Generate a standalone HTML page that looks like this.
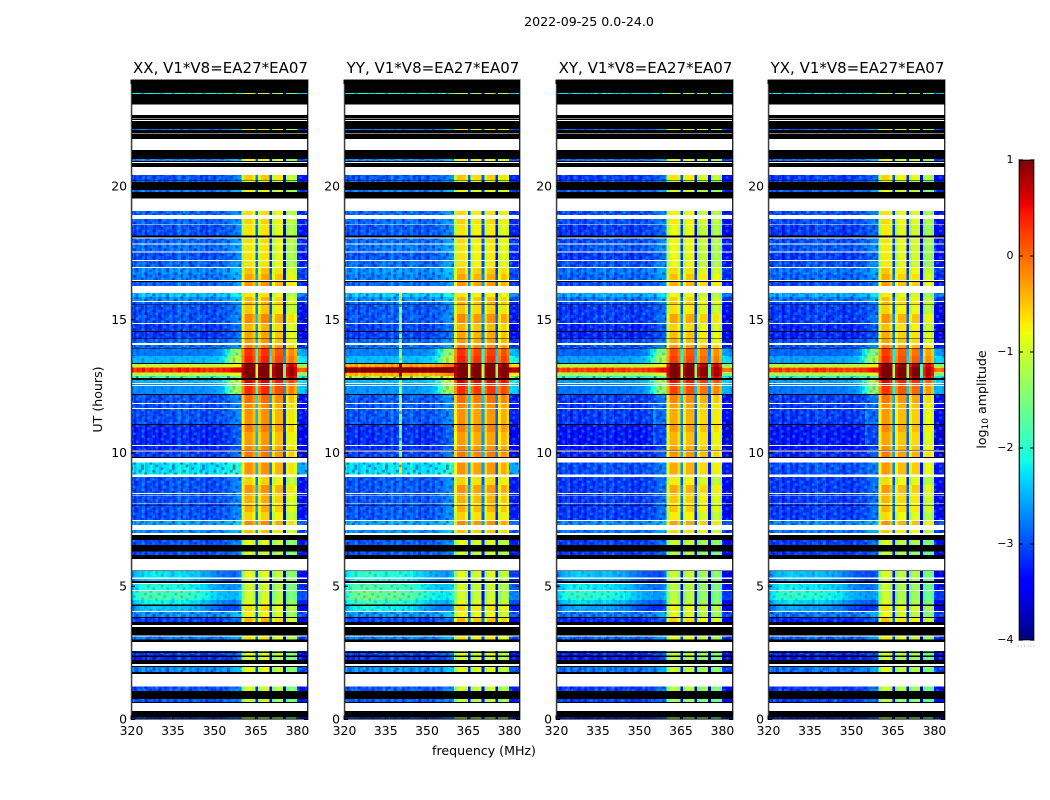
<!DOCTYPE html>
<html lang="en">
<head>
<meta charset="utf-8">
<title>2022-09-25 amplitude waterfall</title>
<style>
html,body{margin:0;padding:0;background:#fff;width:1050px;height:800px;overflow:hidden}
svg{display:block}
text{font-family:"DejaVu Sans","Liberation Sans",sans-serif;fill:#000}
</style>
</head>
<body>
<svg id="chart" xmlns="http://www.w3.org/2000/svg" width="1050" height="800" viewBox="0 0 1050 800">
<defs id="defs"></defs>
<rect width="1050" height="800" fill="#fff"/>
<text x="589" y="26" font-size="12.6" text-anchor="middle">2022-09-25 0.0-24.0</text>
<text x="0" y="0" font-size="12.6" text-anchor="middle" transform="translate(102,399.5) rotate(-90)">UT (hours)</text>
<text x="484" y="755" font-size="12.6" text-anchor="middle">frequency (MHz)</text>
<text x="0" y="0" font-size="12.6" text-anchor="middle" transform="translate(986,399.5) rotate(-90)">log<tspan font-size="9" dy="2">10</tspan><tspan dy="-2"> amplitude</tspan></text>
<g id="panels"></g>
<g id="colorbar"></g>
</svg>
<script>
const K = -9, W = null;
const panelTitles = ['XX, V1*V8=EA27*EA07','YY, V1*V8=EA27*EA07','XY, V1*V8=EA27*EA07','YX, V1*V8=EA27*EA07'];
const xTickLabels = [320,335,350,365,380];
const yTickLabels = [0,5,10,15,20];
const colorTickLabels = [-4,-3,-2,-1,0,1];

// upper UT edge (hours) of each time band; the first band starts at 0
const bandEdges = [
.08,.32,.62,.66,.77,1.07,1.23,1.70,1.78,1.97,
2.01,2.08,2.23,2.35,2.40,2.50,2.55,2.57,2.91,3.01,
3.11,3.16,3.48,3.55,3.66,3.81,3.85,4.03,4.07,4.26,
4.32,4.48,4.83,4.86,5.08,5.12,5.19,5.28,5.32,5.57,
5.60,6.03,6.17,6.30,6.55,6.74,6.93,7.00,7.11,7.30,
7.45,7.49,7.79,8.03,8.05,8.11,8.12,8.38,8.41,8.47,
8.51,8.80,9.11,9.19,9.64,9.82,9.85,10.06,10.09,10.11,
10.27,10.30,10.79,11.05,11.09,11.66,11.69,11.84,11.87,12.18,
12.21,12.51,12.55,12.59,12.63,12.74,12.81,12.89,13.00,13.05,
13.19,13.23,13.34,13.38,13.64,13.92,13.94,14.06,14.13,14.28,
14.30,14.55,14.58,14.84,14.88,15.22,15.55,15.58,15.67,15.70,
15.85,16.01,16.27,16.42,16.45,16.49,16.72,16.94,16.98,17.20,
17.24,17.52,17.56,17.82,17.86,18.05,18.09,18.16,18.57,18.59,
18.78,18.93,19.08,19.56,19.79,19.87,20.17,20.22,20.25,20.43,
20.74,20.89,20.92,20.96,21.03,21.37,21.79,21.99,22.02,22.12,
22.16,22.47,22.50,22.55,22.57,22.68,23.09,23.47,23.52,24];

// log10 amplitude of the 320-360 MHz part per band (K = black row, W = flagged/white)
const bandLow = [
-3,K,W,K,-2.9,K,-2.9,W,K,-2.6,
K,W,K,-3.1,K,-3,K,-3,W,K,
-2.7,W,K,W,K,-3,K,-2.6,W,-2.55,
K,-2.3,-2,W,-2.2,W,K,-2.5,W,-2.4,
K,W,K,-2.9,K,-2.9,K,W,-2.6,W,
-2.5,W,-2.9,-2.9,K,-3,W,-2.9,W,-2.9,
W,-2.9,-2.9,W,-2.3,W,K,-3,W,K,
-3.1,W,-3.1,-3.1,K,-2.9,W,-2.9,W,-2.9,
K,-2.6,W,-2.6,W,-2.4,K,-1.7,-1.1,-.1,
.45,-.1,-1,K,-2.4,-2.7,K,-2.8,W,-2.8,
K,-3,K,-3,W,-2.9,-2.9,K,-2.8,W,
-2.6,-2.3,W,-2.8,K,W,-2.7,-2.6,W,-2.8,
W,-2.9,W,-2.75,W,-2.8,W,K,-2.9,W,
-2.8,W,-2.8,W,K,-2.7,K,-2.8,K,-2.9,
W,K,W,K,-2.6,K,W,K,W,K,
-2.7,K,W,K,W,K,W,K,-2,K];

// log10 amplitude of the 360-380 MHz part per band
const bandHigh = [
-1,K,W,K,-1,K,-.9,W,K,-.8,
K,W,K,-.9,K,-.8,K,-1,W,K,
-.6,W,K,W,K,-.35,K,-.7,W,-.55,
K,-.8,-.9,W,-.9,W,K,-.9,W,-.8,
K,W,K,-.9,K,-.8,K,W,-.4,W,
-.1,W,-.5,-.3,K,-.5,W,-.3,W,-.3,
W,-.15,-.5,W,-.15,W,K,0,W,K,
-.1,W,-.2,-.05,K,-.15,W,-.1,W,.05,
K,.4,W,.45,W,.7,K,1.2,1.4,1.4,
1.4,1.4,1.2,K,.45,.35,K,-.05,W,-.2,
K,-.25,K,-.35,W,-.1,-.45,K,-.3,W,
-.35,-.6,W,-.15,K,W,-.25,-.4,W,-.6,
W,-.6,W,-.6,W,-.55,W,K,-.6,W,
-.5,W,-.55,W,K,-.7,K,-.8,K,-.45,
W,K,W,K,-.7,K,W,K,W,K,
-.6,K,W,K,W,K,W,K,-.9,K];

// which low-band spectral shape each band uses
const bandShape = [
0,0,0,0,0,0,0,0,0,0,
0,0,0,0,0,0,0,0,0,0,
0,0,0,0,0,0,0,0,0,1,
0,1,1,0,1,0,0,1,0,1,
0,0,0,0,0,0,0,0,0,0,
0,0,0,0,0,0,0,0,0,0,
0,0,0,0,0,0,0,0,0,0,
0,0,0,0,0,0,0,0,0,0,
0,2,0,2,0,2,0,0,0,0,
0,0,0,0,2,2,0,0,0,0,
0,0,0,0,0,0,0,0,0,0,
0,0,0,0,0,0,0,0,0,0,
0,0,0,0,0,0,0,0,0,0,
0,0,0,0,0,0,0,0,0,0,
0,0,0,0,0,0,0,0,0,0,
0,0,0,0,0,0,0,0,0,0];

// offsets per MHz for 320-359 MHz, then 380-383 MHz
const shapeFlat = [.1,-.15,.05,-.05,.15,-.2,0,.1,-.1,.05,-.15,.1,0,-.05,.15,-.1,.05,.2,-.05,.1,.15,-.1,.05,0,.15,-.05,.1,-.15,.05,0,-.1,.1,-.05,.15,.05,.1,.2,.25,.3,.25,-.25,-.35,-.3,-.2];
const shapeHump = [-.15,0,.1,.2,.25,.3,.2,.3,.35,.25,.3,.2,.3,.25,.15,.25,.2,.3,.15,.25,.2,.1,.2,.05,.15,0,.05,-.05,-.1,-.2,-.15,-.3,-.25,-.35,-.3,-.4,-.35,-.4,-.3,-.2,-.8,-.9,-.85,-.8];
const shapeRise = [0,.05,-.05,.05,0,.05,0,.05,-.05,.05,0,.05,0,.05,-.05,.05,0,.05,0,.05,0,.05,0,.05,0,.05,.05,.05,.05,.1,.1,.15,.2,.35,.6,.9,1.2,1.4,1.4,1.4,.4,.3,.3,.2];
const lowShapes = [shapeFlat, shapeHump, shapeRise];

// offsets per MHz for 360-379 MHz (dips at 365, 370, 375 MHz)
const highShape = [-.5,.05,.05,.05,-.2,-2.2,-.3,.05,.05,.05,-2.3,-.3,.05,.05,.05,-2.5,-.3,.05,.05,-.2];
// per-polarisation brightness of the four sub-bands, of the low band, and of the 13 UT flare
const subbandXX = [-.1,-.1,-.3,-.55];
const subbandYY = [-.1,-.2,-.15,-.25];
const subbandXY = [-.25,-.3,-.5,-.6];
const subbandYX = [-.15,-.35,-.45,-.7];
const panelSubbands = [subbandXX, subbandYY, subbandXY, subbandYX];
const panelLowOffset = [-.1,-.05,-.2,-.2];
const panelFlareLift = [0,.7,0,0];
// extra low-band lift per polarisation in the 4-6 UT hump rows and in the 9.4 UT row
const panelHumpLift = [0,.2,-.05,-.05];
const lightRowUT = 9.4;
const panelLightRowLift = [.15,.1,-.5,-.5];
// narrow interference channel per panel (MHz, lift in log10, UT span)
const spikeChannel = [0,340,355,355];
const spikeLift = [0,1.4,.4,.4];
const spikeFrom = [0,9.2,10.5,10.5];
const spikeTo = [0,16,12,12];

// decorative speckle tile laid over the low band (d = darker, c = lighter)
const speckleTile = [
"d..c.d...c.",
".c...d.c..d",
"..d.c...d..",
"c...d..c..d",
".d.c...d.c.",
"...d.c.d...",
"d.c...d..c.",
".c..d...d..",
"..d...c.c.d",
"c..d.c...d."];

const NS = 'http://www.w3.org/2000/svg';
const panelLeft = [131,344,556,768];
const panelRight = [308,520,733,945];
const plotTop = 80, plotBottom = 719.5;
const freqMin = 320, freqMax = 384, utMin = 0, utMax = 24;
const colorMin = -4, colorMax = 1;

function xScale(p, f){ return panelLeft[p] + (f - freqMin) / (freqMax - freqMin) * (panelRight[p] - panelLeft[p]); }
function yScale(h){ return plotBottom - (h - utMin) / (utMax - utMin) * (plotBottom - plotTop); }
function colorScale(v){ return 640 - (v - colorMin) / (colorMax - colorMin) * 480; }

function ramp(t, pts){
  if (t <= pts[0][0]) return pts[0][1];
  for (let i = 1; i < pts.length; i++) {
    if (t <= pts[i][0]) {
      const a = pts[i-1], b = pts[i];
      return a[1] + (b[1]-a[1]) * (t-a[0]) / (b[0]-a[0]);
    }
  }
  return pts[pts.length-1][1];
}
const jetR = [[0,0],[.35,0],[.66,1],[.89,1],[1,.5]];
const jetG = [[0,0],[.125,0],[.375,1],[.64,1],[.91,0],[1,0]];
const jetB = [[0,.5],[.11,1],[.34,1],[.65,0],[1,0]];
function jet(v){
  const t = Math.max(0, Math.min(1, (v - colorMin) / (colorMax - colorMin)));
  const c = x => Math.round(ramp(t, x) * 255);
  return 'rgb(' + c(jetR) + ',' + c(jetG) + ',' + c(jetB) + ')';
}
function cellValue(p, b, ch){
  const f = freqMin + ch;
  if (f >= 360 && f < 380) {
    const idx = f - 360;
    return bandHigh[b] + highShape[idx] + panelSubbands[p][Math.floor(idx / 5)];
  }
  const shape = lowShapes[bandShape[b]];
  const idx = f < 360 ? ch : ch - 20;
  let v = bandLow[b] + shape[idx] + panelLowOffset[p];
  if (bandLow[b] > -2) v += panelFlareLift[p];
  if (bandShape[b] === 1) v += panelHumpLift[p];
  const lo = b === 0 ? utMin : bandEdges[b-1];
  const hi = bandEdges[b];
  if (lo <= lightRowUT && hi >= lightRowUT) v += panelLightRowLift[p];
  const mid = (lo + hi) / 2;
  if (f === spikeChannel[p] && mid >= spikeFrom[p] && mid <= spikeTo[p]) v += spikeLift[p];
  return v;
}
function addRect(parent, x, y, w, h, fill){
  const r = document.createElementNS(NS, 'rect');
  r.setAttribute('x', x.toFixed(2));
  r.setAttribute('y', y.toFixed(2));
  r.setAttribute('width', w.toFixed(2));
  r.setAttribute('height', h.toFixed(2));
  r.setAttribute('fill', fill);
  r.setAttribute('shape-rendering', 'crispEdges');
  parent.appendChild(r);
  return r;
}
function addLine(parent, x1, y1, x2, y2, stroke){
  const l = document.createElementNS(NS, 'line');
  l.setAttribute('x1', x1);
  l.setAttribute('y1', y1);
  l.setAttribute('x2', x2);
  l.setAttribute('y2', y2);
  l.setAttribute('stroke', stroke);
  l.setAttribute('stroke-width', '1');
  parent.appendChild(l);
  return l;
}
function addText(parent, x, y, str, size, anchor){
  const t = document.createElementNS(NS, 'text');
  t.setAttribute('x', x);
  t.setAttribute('y', y);
  t.setAttribute('font-size', size);
  t.setAttribute('text-anchor', anchor);
  t.textContent = str;
  parent.appendChild(t);
  return t;
}
const minus = v => v < 0 ? '\u2212' + Math.abs(v) : String(v);

// speckle pattern
const cellW = 2.77, cellH = 2.67;
const pattern = document.createElementNS(NS, 'pattern');
pattern.setAttribute('id', 'speckle');
pattern.setAttribute('patternUnits', 'userSpaceOnUse');
pattern.setAttribute('width', (speckleTile[0].length * cellW).toFixed(2));
pattern.setAttribute('height', (speckleTile.length * cellH).toFixed(2));
speckleTile.forEach(function(row, r){
  row.split('').forEach(function(ch, c){
    if (ch === '.') return;
    const s = document.createElementNS(NS, 'rect');
    s.setAttribute('x', (c * cellW).toFixed(2));
    s.setAttribute('y', (r * cellH).toFixed(2));
    s.setAttribute('width', cellW);
    s.setAttribute('height', cellH);
    s.setAttribute('fill', ch === 'd' ? '#0000a0' : '#20c0ff');
    s.setAttribute('fill-opacity', ch === 'd' ? '.55' : '.5');
    pattern.appendChild(s);
  });
});
document.getElementById('defs').appendChild(pattern);

const panelsRoot = document.getElementById('panels');
panelTitles.forEach(function(title, p){
  const g = document.createElementNS(NS, 'g');
  
  
  panelsRoot.appendChild(g);

  for (let b = 0; b < bandEdges.length; b++) {
    const y0 = yScale(bandEdges[b]);
    const y1 = yScale(b === 0 ? utMin : bandEdges[b-1]);
    const h = y1 - y0;
    if (bandLow[b] === W) continue;
    if (bandLow[b] === K) {
      const row = addRect(g, xScale(p, freqMin), y0, xScale(p, freqMax) - xScale(p, freqMin), h, '#000');
      
      
      continue;
    }
    for (let ch = 0; ch < freqMax - freqMin; ch++) {
      const x0 = xScale(p, freqMin + ch);
      const x1 = xScale(p, freqMin + ch + 1);
      const cell = addRect(g, x0, y0, x1 - x0 + .3, h, jet(cellValue(p, b, ch)));
      
      
    }
    if (bandLow[b] < -1.5) {
      const speckleOpacity = bandShape[b] === 0 ? '.8' : '.35';
      const sp1 = addRect(g, xScale(p, freqMin), y0, xScale(p, 360) - xScale(p, freqMin), h, 'url(#speckle)');
      sp1.setAttribute('fill-opacity', speckleOpacity);
      
      
      const sp2 = addRect(g, xScale(p, 380), y0, xScale(p, freqMax) - xScale(p, 380), h, 'url(#speckle)');
      sp2.setAttribute('fill-opacity', speckleOpacity);
      
      
    }
  }

  const L = panelLeft[p], R = panelRight[p];
  const frameOuter = document.createElementNS(NS, 'rect');
  frameOuter.setAttribute('x', L);
  frameOuter.setAttribute('y', plotTop - .5);
  frameOuter.setAttribute('width', R - L + .5);
  frameOuter.setAttribute('height', plotBottom - plotTop + .5);
  frameOuter.setAttribute('fill', 'none');
  frameOuter.setAttribute('stroke', '#b4b4b4');
  frameOuter.setAttribute('stroke-width', '1');
  
  
  g.appendChild(frameOuter);
  const frameInner = document.createElementNS(NS, 'rect');
  frameInner.setAttribute('x', L + .8);
  frameInner.setAttribute('y', plotTop + .2);
  frameInner.setAttribute('width', R - L - 1.2);
  frameInner.setAttribute('height', plotBottom - plotTop - .8);
  frameInner.setAttribute('fill', 'none');
  frameInner.setAttribute('stroke', '#000');
  frameInner.setAttribute('stroke-width', '.9');
  
  
  g.appendChild(frameInner);

  const titleEl = addText(g, (L + R) / 2 + 1, 73, title, 15, 'middle');
  
  

  xTickLabels.forEach(function(f){
    const x = xScale(p, f);
    const tickB = addLine(g, x, plotBottom, x, plotBottom - 4, '#000');
    
    
    const tickT = addLine(g, x, plotTop, x, plotTop + 4, '#000');
    
    
    const label = addText(g, x + .5, 735, String(f), 12.4, 'middle');
    
    
  });
  yTickLabels.forEach(function(h){
    const y = yScale(h);
    const tickL = addLine(g, L, y, L + 4, y, '#000');
    
    
    const tickR = addLine(g, R, y, R - 4, y, '#000');
    
    
    const label = addText(g, L - 4, y + 4, String(h), 12.4, 'end');
    
    
  });
});

const cb = document.getElementById('colorbar');
const cbLeft = 1019, cbRight = 1034;
for (let py = 160; py < 640; py += 2) {
  const v = colorMax - (py + 1 - 160) / 480 * (colorMax - colorMin);
  const seg = addRect(cb, cbLeft, py, cbRight - cbLeft, 2.2, jet(v));
  
  
}
const cbOuter = document.createElementNS(NS, 'rect');
cbOuter.setAttribute('x', cbLeft - .5);
cbOuter.setAttribute('y', 159.5);
cbOuter.setAttribute('width', cbRight - cbLeft + 1);
cbOuter.setAttribute('height', 481);
cbOuter.setAttribute('fill', 'none');
cbOuter.setAttribute('stroke', '#b4b4b4');


cb.appendChild(cbOuter);
const cbInner = document.createElementNS(NS, 'rect');
cbInner.setAttribute('x', cbLeft + .4);
cbInner.setAttribute('y', 160.4);
cbInner.setAttribute('width', cbRight - cbLeft - .8);
cbInner.setAttribute('height', 479.2);
cbInner.setAttribute('fill', 'none');
cbInner.setAttribute('stroke', '#000');
cbInner.setAttribute('stroke-width', '.9');


cb.appendChild(cbInner);
colorTickLabels.forEach(function(v){
  const y = colorScale(v);
  const t1 = addLine(cb, cbLeft, y, cbLeft + 4, y, '#000');
  
  
  const t2 = addLine(cb, cbRight - 4, y, cbRight, y, '#000');
  
  
  const label = addText(cb, 1013.5, y + 2.8, minus(v), 11, 'end');
  
  
});
for (let i = 0; i < 6; i++) {
  const dot = addRect(cb, 1018 + i * 3.1, 645.5, 1, 1, '#aaa');
  
  
}
</script>
</body>
</html>
